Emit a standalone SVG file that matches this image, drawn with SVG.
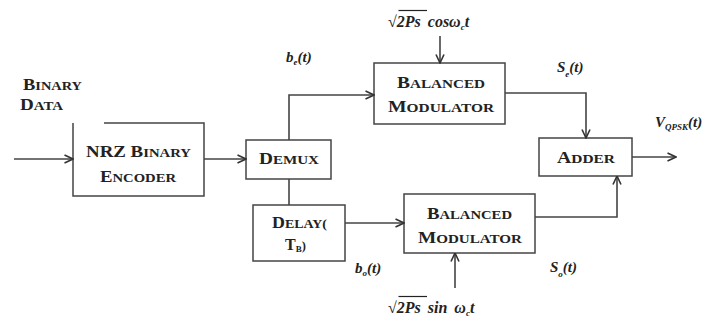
<svg xmlns="http://www.w3.org/2000/svg" width="715" height="322" viewBox="0 0 715 322">
<defs>
<marker id="arr" viewBox="0 0 10 10" refX="9.5" refY="5" markerWidth="10" markerHeight="10" markerUnits="userSpaceOnUse" orient="auto">
<path d="M1,1 L9.5,5 L1,9" fill="none" stroke="#333" stroke-width="1.6"/>
</marker>
</defs>
<style>
.box{fill:#fff;stroke:#444;stroke-width:1.5}
.ln{fill:none;stroke:#444;stroke-width:1.6}
.t{font-family:"Liberation Serif","Times New Roman",serif;font-weight:bold;fill:#222}
.big{font-size:16px}
.sm{font-size:12.5px}
.it{font-family:"Liberation Serif","Times New Roman",serif;font-weight:bold;font-style:italic;fill:#222;font-size:15px}
.fx{font-size:16px}
.sub{font-size:9px}
</style>
<rect width="715" height="322" fill="#fff"/>

<g id="binary-data">
<text class="t" x="23" y="90" textLength="59" lengthAdjust="spacingAndGlyphs"><tspan class="big">B</tspan><tspan class="sm">INARY</tspan></text>
<text class="t" x="20" y="110" textLength="43" lengthAdjust="spacingAndGlyphs"><tspan class="big">D</tspan><tspan class="sm">ATA</tspan></text>
</g>

<g id="nrz-encoder">
<path class="box" d="M104,123 H204 V196 H73 V123"/>
<text class="t" x="86" y="157" textLength="105" lengthAdjust="spacingAndGlyphs"><tspan class="big">NRZ B</tspan><tspan class="sm">INARY</tspan></text>
<text class="t" x="100" y="182" textLength="76" lengthAdjust="spacingAndGlyphs"><tspan class="big">E</tspan><tspan class="sm">NCODER</tspan></text>
</g>

<g id="demux">
<rect class="box" x="246" y="140" width="85" height="39"/>
<text class="t" x="259" y="164" textLength="60" lengthAdjust="spacingAndGlyphs"><tspan class="big">D</tspan><tspan class="sm">EMUX</tspan></text>
</g>

<g id="delay">
<rect class="box" x="253" y="205" width="92" height="56"/>
<text class="t" x="272" y="228" textLength="55" lengthAdjust="spacingAndGlyphs"><tspan class="big">D</tspan><tspan class="sm">ELAY(</tspan></text>
<text class="t" x="285" y="250"><tspan class="big">T</tspan><tspan class="sub" dy="2">B</tspan><tspan class="sm" dy="-2">)</tspan></text>
</g>

<g id="balanced-modulator-top">
<rect class="box" x="374" y="63" width="131" height="61"/>
<text class="t" x="397" y="88" textLength="88" lengthAdjust="spacingAndGlyphs"><tspan class="big">B</tspan><tspan class="sm">ALANCED</tspan></text>
<text class="t" x="388" y="112" textLength="106" lengthAdjust="spacingAndGlyphs"><tspan class="big">M</tspan><tspan class="sm">ODULATOR</tspan></text>
</g>

<g id="balanced-modulator-bottom">
<rect class="box" x="404" y="194" width="131" height="59"/>
<text class="t" x="427" y="219" textLength="85" lengthAdjust="spacingAndGlyphs"><tspan class="big">B</tspan><tspan class="sm">ALANCED</tspan></text>
<text class="t" x="418" y="243" textLength="104" lengthAdjust="spacingAndGlyphs"><tspan class="big">M</tspan><tspan class="sm">ODULATOR</tspan></text>
</g>

<g id="adder">
<rect class="box" x="539" y="138" width="93" height="38"/>
<text class="t" x="557" y="163" textLength="58" lengthAdjust="spacingAndGlyphs"><tspan class="big">A</tspan><tspan class="sm">DDER</tspan></text>
</g>

<g id="connectors">
<path class="ln" d="M14,159 H73" marker-end="url(#arr)"/>
<path class="ln" d="M204,159 H246" marker-end="url(#arr)"/>
<path class="ln" d="M289,140 V95 H374" marker-end="url(#arr)"/>
<path class="ln" d="M289,179 V205"/>
<path class="ln" d="M345,223 H404" marker-end="url(#arr)"/>
<path class="ln" d="M440,36 V63" marker-end="url(#arr)"/>
<path class="ln" d="M455,288 V253" marker-end="url(#arr)"/>
<path class="ln" d="M505,93 H586 V138" marker-end="url(#arr)"/>
<path class="ln" d="M535,217 H617 V176" marker-end="url(#arr)"/>
<path class="ln" d="M632,157 H676" marker-end="url(#arr)"/>
</g>

<g id="labels">
<text class="it" x="286" y="62">b<tspan class="sub" dy="3">e</tspan><tspan dy="-3">(t)</tspan></text>
<text class="it" x="355" y="273">b<tspan class="sub" dy="3">o</tspan><tspan dy="-3">(t)</tspan></text>
<text class="it" x="557" y="72">S<tspan class="sub" dy="5">e</tspan><tspan dy="-5">(t)</tspan></text>
<text class="it" x="550" y="272">S<tspan class="sub" dy="5">o</tspan><tspan dy="-5">(t)</tspan></text>
<text class="it" x="655" y="127">V<tspan class="sub" dy="3">QPSK</tspan><tspan dy="-3">(t)</tspan></text>
<text class="it fx" x="388" y="27" word-spacing="3"><tspan font-style="normal">√</tspan>2Ps cosω<tspan class="sub" dy="3">c</tspan><tspan dy="-3">t</tspan></text>
<path d="M398.5,10.5 H427" stroke="#222" stroke-width="1.2"/>
<text class="it fx" x="388" y="313" word-spacing="3"><tspan font-style="normal">√</tspan>2Ps sin ω<tspan class="sub" dy="3">c</tspan><tspan dy="-3">t</tspan></text>
<path d="M398.5,296.5 H427" stroke="#222" stroke-width="1.2"/>
</g>
</svg>
